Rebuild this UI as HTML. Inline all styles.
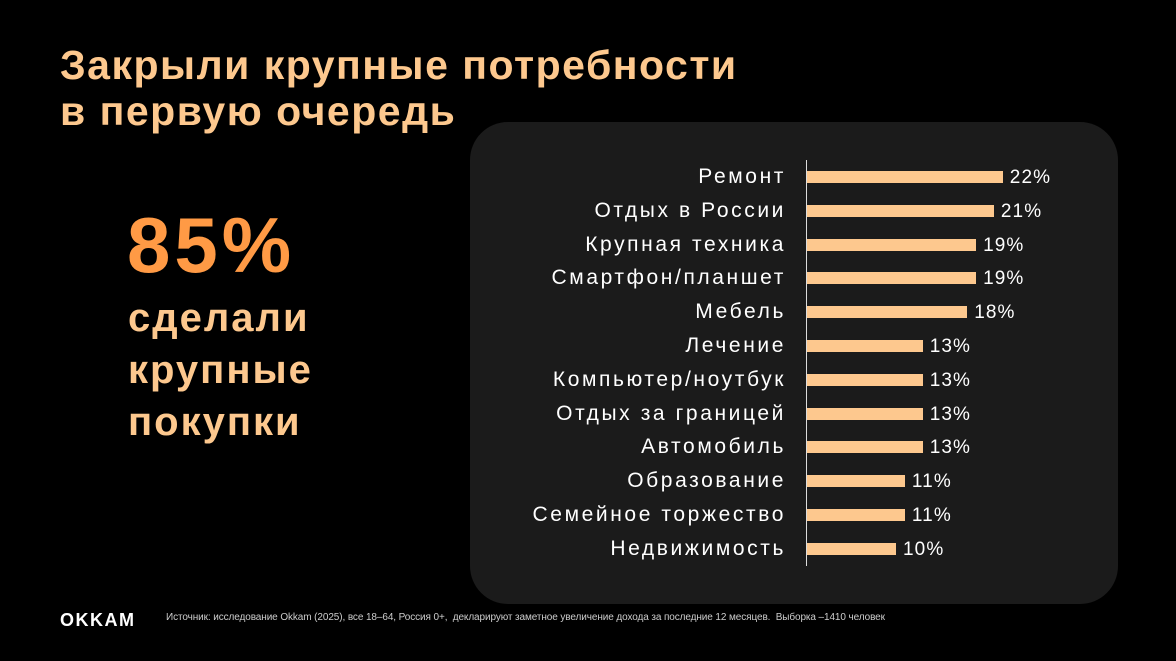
<!DOCTYPE html>
<html><head><meta charset="utf-8"><style>
body{margin:0;width:1176px;height:661px;background:#000;overflow:hidden;font-family:"Liberation Sans",sans-serif;position:relative}
.t{position:absolute;left:60px;top:42px;color:#fdc88e;font-size:41px;font-weight:bold;line-height:46px;letter-spacing:1.5px}
.big{position:absolute;left:127px;top:200px;color:#ff9a45;font-size:78px;font-weight:bold;line-height:90px;letter-spacing:4px}
.sub{position:absolute;left:128px;top:292px;color:#fdc88e;font-size:40px;font-weight:bold;line-height:52px;letter-spacing:2px}
.panel{position:absolute;left:470px;top:122px;width:648px;height:482px;border-radius:38px;background:#1b1b1b}
.axis{position:absolute;left:806px;top:160px;width:1px;height:406px;background:#ddd}
.lab{position:absolute;right:390px;color:#fff;font-size:21px;line-height:24px;text-align:right;white-space:nowrap;letter-spacing:2.6px}
.bar{position:absolute;left:807px;height:12px;background:#fdc88e}
.val{position:absolute;color:#fff;font-size:19px;line-height:22px;letter-spacing:1.1px}
.logo{position:absolute;left:60px;top:610px;color:#fff;font-weight:bold;font-size:18px;letter-spacing:1.5px}
.src{position:absolute;left:166px;top:612px;color:#ccc;font-size:10px;letter-spacing:-0.1px;white-space:nowrap}
</style></head><body>
<div class="t">Закрыли крупные потребности<br>в первую очередь</div>
<div class="big">85%</div>
<div class="sub">сделали<br>крупные<br>покупки</div>
<div class="panel"></div>
<div class="axis"></div>
<div id="c"></div>
<div class="logo">OKKAM</div>
<div class="src">Источник: исследование Okkam (2025), все 18–64, Россия 0+,&nbsp; декларируют заметное увеличение дохода за последние 12 месяцев.&nbsp; Выборка –1410 человек</div>
<script>
var d=[["Ремонт",22],["Отдых в России",21],["Крупная техника",19],["Смартфон/планшет",19],["Мебель",18],["Лечение",13],["Компьютер/ноутбук",13],["Отдых за границей",13],["Автомобиль",13],["Образование",11],["Семейное торжество",11],["Недвижимость",10]];
var h="";d.forEach(function(r,i){var y=177+i*33.8;var w=r[1]*8.9;
h+='<div class="lab" style="top:'+(y-12)+'px">'+r[0]+'</div><div class="bar" style="top:'+(y-6)+'px;width:'+w+'px"></div><div class="val" style="left:'+(807+w+7)+'px;top:'+(y-10)+'px">'+r[1]+'%</div>';});
document.getElementById("c").innerHTML=h;
</script>
</body></html>
